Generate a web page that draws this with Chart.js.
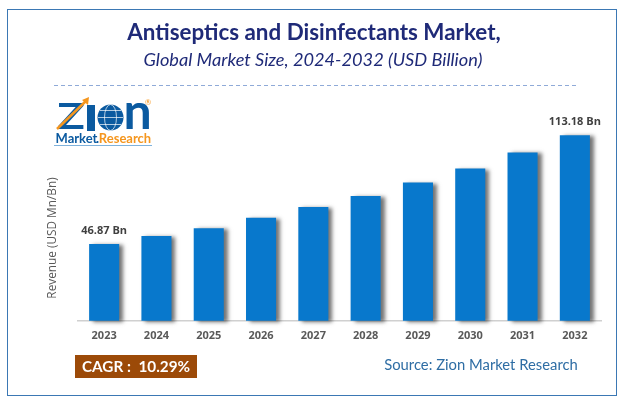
<!DOCTYPE html>
<html>
<head>
<meta charset="utf-8">
<script src="https://cdn.jsdelivr.net/npm/chart.js@4"></script>
<style>
  html, body { margin: 0; padding: 0; background: #fff; }
  canvas { display: block; }
</style>
</head>
<body>
<canvas id="grafico" width="625" height="403"></canvas>
<script>
const anos = ['2023', '2024', '2025', '2026', '2027', '2028', '2029', '2030', '2031', '2032'];
const receita = [46.87, 51.7, 56.4, 62.8, 69.4, 76.1, 84.3, 92.9, 102.7, 113.18];
const rotulos = ['46.87 Bn', '', '', '', '', '', '', '', '', '113.18 Bn'];

const titulo = 'Antiseptics and Disinfectants Market,';
const subtitulo = 'Global Market Size, 2024-2032 (USD Billion)';
const eixoY = 'Revenue (USD Mn/Bn)';
const cagr = 'CAGR :  10.29%';
const fonte = 'Source: Zion Market Research';

function texto(ctx, str, x, y, font, color, align) {
    ctx.font = font;
    ctx.fillStyle = color;
    ctx.textAlign = align || 'center';
    ctx.textBaseline = 'middle';
    ctx.fillText(str, x, y);
}

// sombra das barras
const sombra = {
    id: 'sombra',
    beforeDatasetsDraw(chart) {
        const ctx = chart.ctx;
        ctx.save();
        ctx.shadowColor = 'rgba(0,0,0,0.55)';
        ctx.shadowBlur = 4;
        ctx.shadowOffsetX = 4;
        ctx.shadowOffsetY = 1;
    },
    afterDatasetsDraw(chart) {
        chart.ctx.restore();
    }
};

// logo aproximado
function desenhaLogo(ctx) {
    const azul = '#0b5aa0', laranja = '#f5961e';
    ctx.save();
    ctx.translate(71, 117);
    ctx.scale(1.25, 1);
    texto(ctx, 'Z', 0, 0, 'bold 37px Lato', azul);
    ctx.restore();
    ctx.fillStyle = azul;
    ctx.fillRect(87, 105, 8, 26);
    texto(ctx, 'n', 137.5, 113, 'bold 50px Lato', azul);
    ctx.strokeStyle = laranja;
    ctx.lineWidth = 2.5;
    ctx.beginPath();
    ctx.moveTo(57, 129);
    ctx.lineTo(87, 100);
    ctx.stroke();
    ctx.fillStyle = laranja;
    ctx.beginPath();
    ctx.moveTo(89, 97);
    ctx.lineTo(88, 105);
    ctx.lineTo(82, 100);
    ctx.fill();
    // globo
    ctx.fillStyle = azul;
    ctx.beginPath();
    ctx.arc(110.5, 117.5, 13, 0, Math.PI * 2);
    ctx.fill();
    ctx.strokeStyle = '#fff';
    ctx.lineWidth = 0.7;
    ctx.beginPath();
    ctx.ellipse(110.5, 117.5, 6, 13, 0, 0, Math.PI * 2);
    ctx.moveTo(98, 117.5);
    ctx.lineTo(123, 117.5);
    ctx.moveTo(100, 110.5);
    ctx.lineTo(121, 110.5);
    ctx.moveTo(100, 124.5);
    ctx.lineTo(121, 124.5);
    ctx.stroke();
    texto(ctx, '®', 148, 102, '8px Lato', laranja);
    texto(ctx, 'Market', 76.5, 139, 'bold 13px Lato', azul);
    texto(ctx, '.', 97.5, 139, 'bold 13px Lato', azul);
    texto(ctx, 'Research', 125, 139, 'bold 13px Lato', laranja);
    ctx.strokeStyle = '#7fb2dc';
    ctx.lineWidth = 1;
    ctx.beginPath();
    ctx.moveTo(54, 145.5);
    ctx.lineTo(152, 145.5);
    ctx.stroke();
}

const decoracao = {
    id: 'decoracao',
    afterDraw(chart) {
        const ctx = chart.ctx;
        ctx.save();

        ctx.strokeStyle = '#3b78b4';
        ctx.lineWidth = 1;
        ctx.strokeRect(7.5, 9.5, 609, 386);

        texto(ctx, titulo, 314, 33, 'bold 22.4px Lato', '#1f2a78');
        texto(ctx, subtitulo, 313, 60, 'italic 18.2px Lato', '#1f2a78');

        ctx.strokeStyle = '#8faad8';
        ctx.setLineDash([4, 3]);
        ctx.beginPath();
        ctx.moveTo(54, 85.5);
        ctx.lineTo(578, 85.5);
        ctx.stroke();
        ctx.setLineDash([]);

        desenhaLogo(ctx);

        ctx.save();
        ctx.translate(53, 238);
        ctx.rotate(-Math.PI / 2);
        texto(ctx, eixoY, 0, 0, '11.8px "Open Sans"', '#595959');
        ctx.restore();

        // rótulos de valor
        chart.getDatasetMeta(0).data.forEach((bar, i) => {
            if (rotulos[i]) {
                texto(ctx, rotulos[i], bar.x, bar.y - 13, 'bold 11px "Open Sans"', '#404040');
            }
        });

        ctx.fillStyle = '#9c4a08';
        ctx.fillRect(75, 355, 122, 23);
        texto(ctx, cagr, 136, 367, 'bold 15.3px Lato', '#ffffff');
        texto(ctx, fonte, 481, 365, '14.8px Lato', '#2e6da4');

        ctx.restore();
    }
};

new Chart(document.getElementById('grafico'), {
    type: 'bar',
    data: {
        labels: anos,
        datasets: [{
            data: receita,
            backgroundColor: '#0878cc',
            barPercentage: 0.575,
            categoryPercentage: 1,
            clip: false
        }]
    },
    options: {
        responsive: false,
        animation: false,
        layout: { padding: { left: 78, right: 24, top: 120, bottom: 61 } },
        plugins: {
            legend: { display: false },
            title: { display: false },
            tooltip: { enabled: false }
        },
        scales: {
            x: {
                grid: { display: false },
                border: { color: '#d0d0d0', width: 1.5 },
                ticks: {
                    color: '#595959',
                    padding: 0,
                    maxRotation: 0,
                    autoSkip: false,
                    font: { family: '"Open Sans"', size: 11, weight: '700' }
                }
            },
            y: { display: false, min: 0, max: 122.5 }
        }
    },
    plugins: [sombra, decoracao]
});
</script>
</body>
</html>
